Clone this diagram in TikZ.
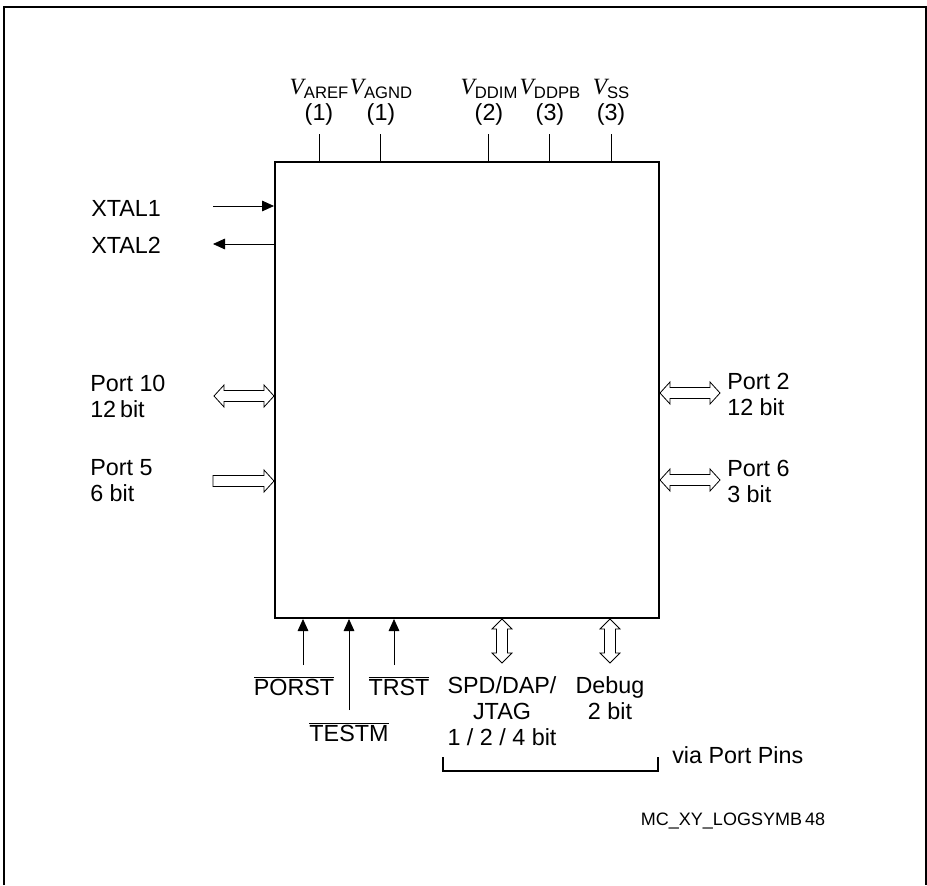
\documentclass[tikz,border=0pt]{standalone}
\usepackage{fontspec}
\setmainfont{Liberation Sans}
\newfontfamily\vfont{Liberation Serif}
\usepackage{tikz}
\usetikzlibrary{arrows.meta,positioning,calc}
\newcommand{\vpin}[1]{{\vfont\itshape V}\raisebox{-3pt}{\fontsize{12.5}{14}\selectfont #1}}
\newcommand{\negsig}[1]{$\overline{\mbox{#1}}$}
% hollow bus arrows
\newcommand{\hbusdbl}[2]{\draw[bus] (#1) -- ($(#1)+(10,-11)$) -- ($(#1)+(10,-5.5)$) -- ($(#2)+(-10,-5.5)$) -- ($(#2)+(-10,-11)$) -- (#2) -- ($(#2)+(-10,11)$) -- ($(#2)+(-10,5.5)$) -- ($(#1)+(10,5.5)$) -- ($(#1)+(10,11)$) -- cycle;}
\newcommand{\hbusright}[2]{\draw[bus] ($(#1)+(0,-5.5)$) -- ($(#2)+(-10,-5.5)$) -- ($(#2)+(-10,-11)$) -- (#2) -- ($(#2)+(-10,11)$) -- ($(#2)+(-10,5.5)$) -- ($(#1)+(0,5.5)$) -- cycle;}
\newcommand{\vbusdbl}[2]{\draw[bus] (#1) -- ($(#1)+(-10,10)$) -- ($(#1)+(-5.5,10)$) -- ($(#2)+(-5.5,-10)$) -- ($(#2)+(-10,-10)$) -- (#2) -- ($(#2)+(10,-10)$) -- ($(#2)+(5.5,-10)$) -- ($(#1)+(5.5,10)$) -- ($(#1)+(10,10)$) -- cycle;}

\begin{document}
\begin{tikzpicture}[x=0.75pt, y=-0.75pt,
    lbl/.style={font=\fontsize{17.5}{19.5}\selectfont, inner sep=0pt},
    small/.style={font=\fontsize{13.5}{16}\selectfont, inner sep=0pt},
    chip/.style={draw, line width=1.5pt, minimum width=288pt, minimum height=342pt, inner sep=0pt},
    sig/.style={line width=0.6pt, -{Triangle[length=9pt,width=8pt]}},
    pinline/.style={line width=0.6pt},
    bus/.style={draw, line width=0.6pt, fill=white, line join=miter}
]
    \useasboundingbox (0,0) rectangle (927,885);
    % Frame
    \draw[line width=1.2pt] (4,885) -- (4,7) -- (926,7) -- (926,885);

    % Chip
    \node[chip] (chip) at (467,390) {};

    % Supply pins
    \node[lbl, align=center, anchor=south] (varef) at (319,126) {\vpin{AREF}\\(1)};
    \node[lbl, align=center, anchor=south] (vagnd) at (381,126) {\vpin{AGND}\\(1)};
    \node[lbl, align=center, anchor=south] (vddim) at (489,126) {\vpin{DDIM}\\(2)};
    \node[lbl, align=center, anchor=south] (vddpb) at (550,126) {\vpin{DDPB}\\(3)};
    \node[lbl, align=center, anchor=south] (vss) at (611,126) {\vpin{SS}\\(3)};
    \draw[pinline] (chip.north -| 319,0) -- ++(0,-27);
    \draw[pinline] (chip.north -| 380,0) -- ++(0,-27);
    \draw[pinline] (chip.north -| 488,0) -- ++(0,-27);
    \draw[pinline] (chip.north -| 549,0) -- ++(0,-27);
    \draw[pinline] (chip.north -| 611,0) -- ++(0,-27);

    % Oscillator
    \node[lbl, anchor=west] (xtal1) at (91,208) {XTAL1};
    \node[lbl, anchor=west] (xtal2) at (91,245) {XTAL2};
    \coordinate (xtal1in) at (213,206);
    \coordinate (xtal2out) at (213,244);
    \draw[sig] (xtal1in) -- (xtal1in -| chip.west);
    \draw[sig] (xtal2out -| chip.west) -- (xtal2out);

    % Left ports
    \node[lbl, anchor=west, align=left] (port10) at (90,396) {Port 10\\12\,bit};
    \node[lbl, anchor=west, align=left] (port5) at (90,481) {Port 5\\6 bit};
    \coordinate (port10end) at (214,396);
    \coordinate (port5end) at (213,481);
    \hbusdbl{port10end}{port10end -| chip.west}
    \hbusright{port5end}{port5end -| chip.west}

    % Right ports
    \node[lbl, anchor=west, align=left] (port2) at (727,394) {Port 2\\12 bit};
    \node[lbl, anchor=west, align=left] (port6) at (727,481) {Port 6\\3 bit};
    \coordinate (port2end) at (720,393);
    \coordinate (port6end) at (720,480);
    \hbusdbl{port2end -| chip.east}{port2end}
    \hbusdbl{port6end -| chip.east}{port6end}

    % Reset and test inputs
    \node[lbl, anchor=base] (porst) at (294,695) {\negsig{PORST}};
    \node[lbl, anchor=base] (testm) at (349,741) {\negsig{TESTM}};
    \node[lbl, anchor=base] (trst) at (399,695) {\negsig{TRST}};
    \coordinate (porstin) at (303,665);
    \coordinate (testmin) at (349,710);
    \coordinate (trstin) at (394,665);
    \draw[sig] (porstin) -- (porstin |- chip.south);
    \draw[sig] (testmin) -- (testmin |- chip.south);
    \draw[sig] (trstin) -- (trstin |- chip.south);

    % Debug interfaces
    \node[lbl, align=center] (spd) at (502,711) {SPD/DAP/\\JTAG\\1 / 2 / 4 bit};
    \node[lbl, align=center] (debug) at (610,698) {Debug\\2 bit};
    \coordinate (spdend) at (502,663);
    \coordinate (debugend) at (610,663);
    \vbusdbl{spdend |- chip.south}{spdend}
    \vbusdbl{debugend |- chip.south}{debugend}

    % Port pin bracket
    \coordinate (brl) at (443,757);
    \coordinate (brr) at (658,757);
    \draw[pinline, line width=1.2pt] (brl) -- ++(0,14) -| (brr);
    \node[lbl, anchor=west] (via) at (672,755) {via Port Pins};

    \node[small, anchor=base] (symb) at (733,825) {MC\_XY\_LOGSYMB\,48};
\end{tikzpicture}
\end{document}
